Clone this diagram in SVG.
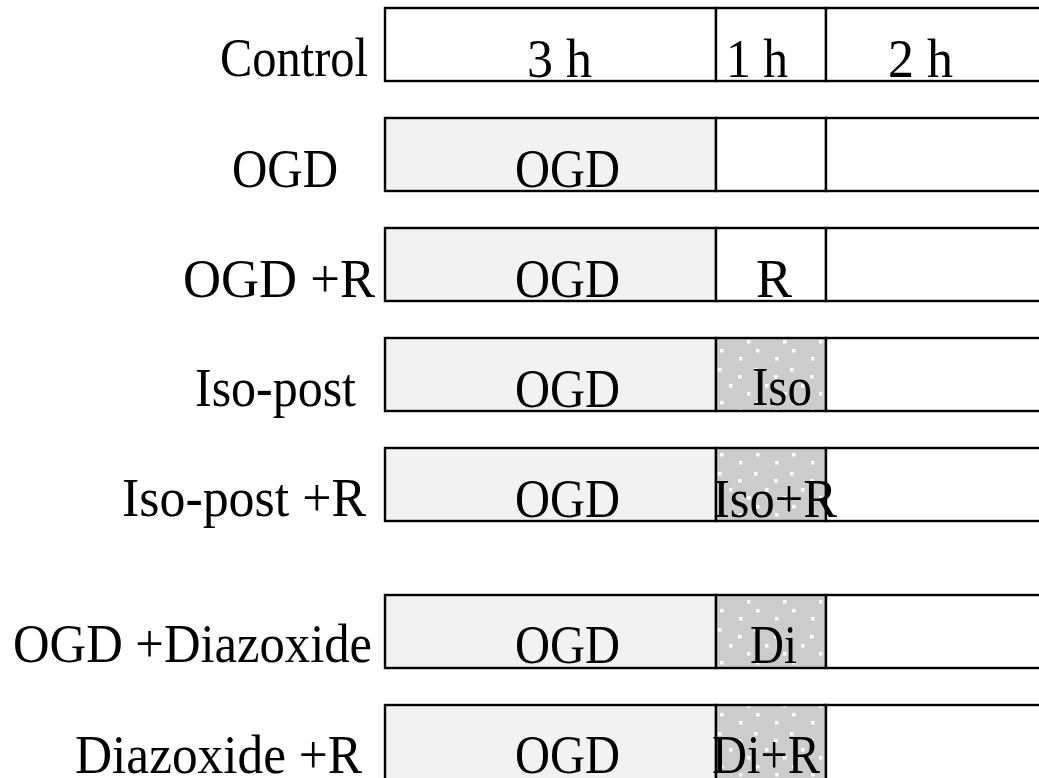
<svg xmlns="http://www.w3.org/2000/svg" width="1039" height="778" viewBox="0 0 1039 778">
  <style>
    .seg { stroke: #000; stroke-width: 2.4; }
    .blank { fill: #ffffff; }
    .ogd { fill: #f2f2f2; }
    .txt { font-family: "Liberation Serif", "DejaVu Serif", serif; font-size: 55px; fill: #000; }
  </style>
  <defs>
    <!-- grey stipple with sparse white dots for the treatment hour -->
    <pattern id="stipple" x="716" y="0" width="36" height="52" patternUnits="userSpaceOnUse">
      <rect width="36" height="52" fill="#cccccc"/>
      <rect x="2" y="4" width="3.5" height="3.5" fill="#ffffff"/>
      <rect x="22" y="11" width="3.5" height="3.5" fill="#ffffff"/>
      <rect x="13" y="20" width="3.5" height="3.5" fill="#ffffff"/>
      <rect x="31" y="28" width="3.5" height="3.5" fill="#ffffff"/>
      <rect x="4" y="37" width="3.5" height="3.5" fill="#ffffff"/>
      <rect x="23" y="45" width="3.5" height="3.5" fill="#ffffff"/>
    </pattern>
  </defs>

  <g id="row-control">
    <rect class="seg blank" x="385" y="8" width="331" height="73"/>
    <rect class="seg blank" x="716" y="8" width="110" height="73"/>
    <rect class="seg blank" x="826" y="8" width="230" height="73"/>
    <text class="txt" x="220" y="76" textLength="148" lengthAdjust="spacingAndGlyphs">Control</text>
    <text class="txt" x="527" y="77" textLength="65" lengthAdjust="spacingAndGlyphs">3 h</text>
    <text class="txt" x="726" y="77" textLength="62" lengthAdjust="spacingAndGlyphs">1 h</text>
    <text class="txt" x="888" y="77" textLength="65" lengthAdjust="spacingAndGlyphs">2 h</text>
  </g>

  <g id="row-ogd">
    <rect class="seg ogd" x="385" y="118" width="331" height="73"/>
    <rect class="seg blank" x="716" y="118" width="110" height="73"/>
    <rect class="seg blank" x="826" y="118" width="230" height="73"/>
    <text class="txt" x="232" y="187" textLength="106" lengthAdjust="spacingAndGlyphs">OGD</text>
    <text class="txt" x="515" y="187" textLength="105" lengthAdjust="spacingAndGlyphs">OGD</text>
  </g>

  <g id="row-ogd-r">
    <rect class="seg ogd" x="385" y="228" width="331" height="73"/>
    <rect class="seg blank" x="716" y="228" width="110" height="73"/>
    <rect class="seg blank" x="826" y="228" width="230" height="73"/>
    <text class="txt" x="183" y="297" textLength="192" lengthAdjust="spacingAndGlyphs">OGD +R</text>
    <text class="txt" x="515" y="297" textLength="105" lengthAdjust="spacingAndGlyphs">OGD</text>
    <text class="txt" x="756" y="297" textLength="36" lengthAdjust="spacingAndGlyphs">R</text>
  </g>

  <g id="row-iso-post">
    <rect class="seg ogd" x="385" y="338" width="331" height="73"/>
    <rect class="seg" x="716" y="338" width="110" height="73" fill="url(#stipple)"/>
    <rect class="seg blank" x="826" y="338" width="230" height="73"/>
    <text class="txt" x="195" y="406" textLength="161" lengthAdjust="spacingAndGlyphs">Iso-post</text>
    <text class="txt" x="515" y="407" textLength="105" lengthAdjust="spacingAndGlyphs">OGD</text>
    <text class="txt" x="752" y="405" textLength="60" lengthAdjust="spacingAndGlyphs">Iso</text>
  </g>

  <g id="row-iso-post-r">
    <rect class="seg ogd" x="385" y="448" width="331" height="73"/>
    <rect class="seg" x="716" y="448" width="110" height="73" fill="url(#stipple)"/>
    <rect class="seg blank" x="826" y="448" width="230" height="73"/>
    <text class="txt" x="122" y="516" textLength="244" lengthAdjust="spacingAndGlyphs">Iso-post +R</text>
    <text class="txt" x="515" y="517" textLength="105" lengthAdjust="spacingAndGlyphs">OGD</text>
    <text class="txt" x="713" y="517" textLength="124" lengthAdjust="spacingAndGlyphs">Iso+R</text>
  </g>

  <g id="row-ogd-diazoxide">
    <rect class="seg ogd" x="385" y="595" width="331" height="73"/>
    <rect class="seg" x="716" y="595" width="110" height="73" fill="url(#stipple)"/>
    <rect class="seg blank" x="826" y="595" width="230" height="73"/>
    <text class="txt" x="13" y="662" textLength="359" lengthAdjust="spacingAndGlyphs">OGD +Diazoxide</text>
    <text class="txt" x="515" y="663" textLength="105" lengthAdjust="spacingAndGlyphs">OGD</text>
    <text class="txt" x="750" y="663" textLength="47" lengthAdjust="spacingAndGlyphs">Di</text>
  </g>

  <g id="row-diazoxide-r">
    <rect class="seg ogd" x="385" y="705" width="331" height="80"/>
    <rect class="seg" x="716" y="705" width="110" height="80" fill="url(#stipple)"/>
    <rect class="seg blank" x="826" y="705" width="230" height="80"/>
    <text class="txt" x="75" y="773" textLength="287" lengthAdjust="spacingAndGlyphs">Diazoxide +R</text>
    <text class="txt" x="515" y="773" textLength="105" lengthAdjust="spacingAndGlyphs">OGD</text>
    <text class="txt" x="712" y="773" textLength="108" lengthAdjust="spacingAndGlyphs">Di+R</text>
  </g>

  <g id="connectors"/>
</svg>
